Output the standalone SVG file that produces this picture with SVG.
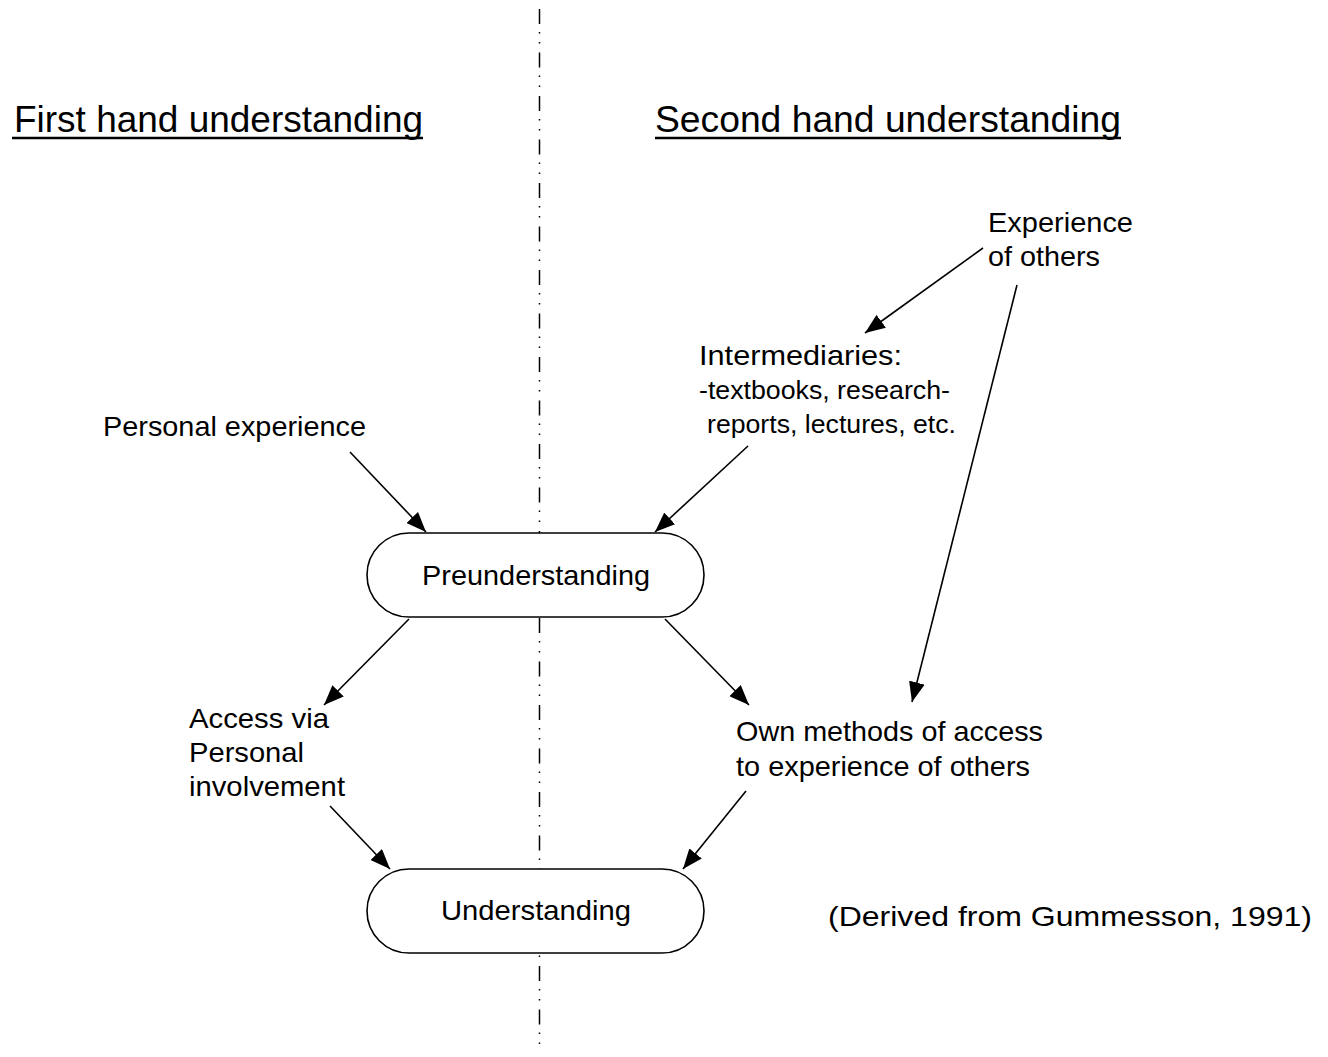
<svg xmlns="http://www.w3.org/2000/svg" width="1328" height="1057" viewBox="0 0 1328 1057">
<style>
text{font-family:"Liberation Sans",Arial,sans-serif;font-size:28px;fill:#000}
.hd{font-size:36px}
.sm{font-size:25px}
.box{fill:#fff;stroke:#000;stroke-width:1.6}
.conn{stroke:#000;stroke-width:1.6;fill:none;marker-end:url(#ah)}
.ul{stroke:#000;stroke-width:2.5}
</style>
<defs>
<marker id="ah" markerWidth="22" markerHeight="16" refX="20" refY="8" orient="auto" markerUnits="userSpaceOnUse">
<path d="M0,0 L20,8 L0,16 Z" fill="#000"/>
</marker>
</defs>
<rect width="1328" height="1057" fill="#fff"/>
<line x1="539.5" y1="9" x2="539.5" y2="1052" stroke="#000" stroke-width="1.5" stroke-dasharray="15 8 1.5 8.5 1.5 9"/>
<g id="heading-first">
<text class="hd" x="14" y="132" textLength="409" lengthAdjust="spacingAndGlyphs">First hand understanding</text>
<line class="ul" x1="12" y1="138" x2="423" y2="138"/>
</g>
<g id="heading-second">
<text class="hd" x="655" y="132" textLength="466" lengthAdjust="spacingAndGlyphs">Second hand understanding</text>
<line class="ul" x1="655" y1="138" x2="1121" y2="138"/>
</g>
<g id="experience-others">
<text x="988" y="232" textLength="145" lengthAdjust="spacingAndGlyphs">Experience</text>
<text x="988" y="266" textLength="112" lengthAdjust="spacingAndGlyphs">of others</text>
</g>
<g id="intermediaries">
<text x="699" y="365" textLength="203" lengthAdjust="spacingAndGlyphs">Intermediaries:</text>
<text class="sm" x="699" y="399" textLength="251" lengthAdjust="spacingAndGlyphs">-textbooks, research-</text>
<text class="sm" x="707" y="433" textLength="249" lengthAdjust="spacingAndGlyphs">reports, lectures, etc.</text>
</g>
<g id="personal-experience">
<text x="103" y="436" textLength="263" lengthAdjust="spacingAndGlyphs">Personal experience</text>
</g>
<g id="preunderstanding">
<rect class="box" x="367" y="533" width="337" height="84" rx="42" ry="42"/>
<text x="422" y="585" textLength="228" lengthAdjust="spacingAndGlyphs">Preunderstanding</text>
</g>
<g id="access-personal">
<text x="189" y="728" textLength="140" lengthAdjust="spacingAndGlyphs">Access via</text>
<text x="189" y="762" textLength="115" lengthAdjust="spacingAndGlyphs">Personal</text>
<text x="189" y="796" textLength="156" lengthAdjust="spacingAndGlyphs">involvement</text>
</g>
<g id="own-methods">
<text x="736" y="741" textLength="307" lengthAdjust="spacingAndGlyphs">Own methods of access</text>
<text x="736" y="776" textLength="294" lengthAdjust="spacingAndGlyphs">to experience of others</text>
</g>
<g id="understanding">
<rect class="box" x="367" y="869" width="337" height="84" rx="42" ry="42"/>
<text x="441" y="920" textLength="190" lengthAdjust="spacingAndGlyphs">Understanding</text>
</g>
<g id="source">
<text x="828" y="926" textLength="484" lengthAdjust="spacingAndGlyphs">(Derived from Gummesson, 1991)</text>
</g>
<g id="connectors">
<line class="conn" x1="350" y1="452" x2="426" y2="532"/>
<line class="conn" x1="748" y1="446" x2="655" y2="532"/>
<line class="conn" x1="983" y1="248" x2="865" y2="333"/>
<line class="conn" x1="1017" y1="285" x2="912" y2="702"/>
<line class="conn" x1="409" y1="619" x2="324" y2="705"/>
<line class="conn" x1="665" y1="619" x2="749" y2="705"/>
<line class="conn" x1="330" y1="806" x2="390" y2="869"/>
<line class="conn" x1="746" y1="791" x2="683" y2="869"/>
</g>
</svg>
